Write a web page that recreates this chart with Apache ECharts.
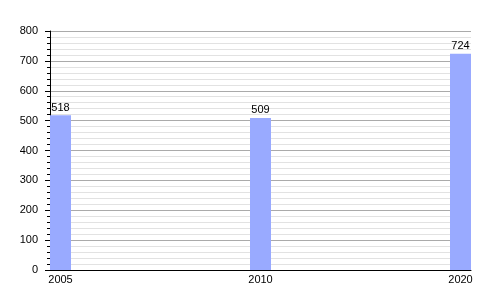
<!DOCTYPE html>
<html><head><meta charset="utf-8">
<script src="https://cdn.jsdelivr.net/npm/echarts@6/dist/echarts.min.js"></script>
<style>html,body{margin:0;padding:0;background:#fff}#c{width:500px;height:300px}</style>
</head><body><div id="c"></div>
<script>
const years = ['2005', '2010', '2020'];
const values = [518, 509, 724];
const yTicks = [0, 100, 200, 300, 400, 500, 600, 700, 800];

const chart = echarts.init(document.getElementById('c'), null, {renderer: 'canvas'});
chart.setOption({
  animation: false,
  grid: {left: 50, right: 29, top: 31, bottom: 30, containLabel: false},
  xAxis: {
    type: 'value',
    min: -0.0525, max: 2.0525,
    axisLine: {show: true, onZero: false, lineStyle: {color: '#000', width: 1}},
    axisTick: {show: false},
    splitLine: {show: false},
    axisLabel: {
      customValues: years.map((y, i) => i),
      formatter: v => years[Math.round(v)] || '',
      color: '#000', fontFamily: 'Liberation Sans, Arial', fontSize: 11, margin: 4
    }
  },
  yAxis: {
    type: 'value',
    min: yTicks[0], max: yTicks[yTicks.length - 1], interval: 100,
    axisLine: {show: true, onZero: false, lineStyle: {color: '#000', width: 1}},
    axisTick: {show: true, length: 5, lineStyle: {color: '#000'}},
    minorTick: {show: true, splitNumber: 5, length: 3, lineStyle: {color: '#000'}},
    splitLine: {show: true, lineStyle: {color: '#aaa', width: 1}},
    minorSplitLine: {show: true, lineStyle: {color: '#e2e2e2', width: 1}},
    axisLabel: {color: '#000', fontFamily: 'Liberation Sans, Arial', fontSize: 11, margin: 12}
  },
  series: [{
    type: 'bar',
    data: values.map((v, i) => [i, v]),
    barWidth: 21,
    itemStyle: {color: '#99aaff'},
    label: {show: true, position: 'top', distance: 2, color: '#000',
      fontFamily: 'Liberation Sans, Arial', fontSize: 11,
      formatter: p => p.value[1]}
  }]
});
</script></body></html>
